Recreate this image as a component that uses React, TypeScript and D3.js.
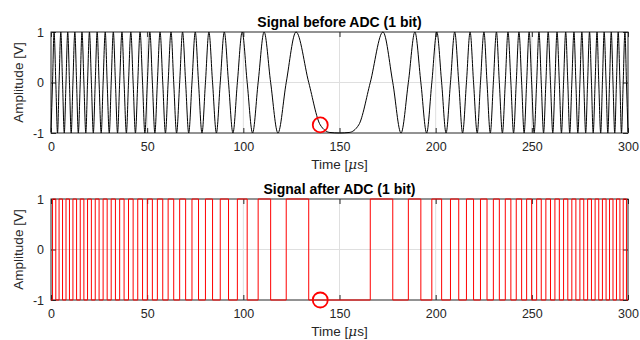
import * as d3 from "d3";
import React, { useRef, useEffect } from "react";

const mainWidth = 640;
const mainHeight = 340;

const left = 51;
const right = 628;

// analog chirp (time in µs)
const peakTimes = [
  1.6, 5.1, 8.7, 12.4, 16.1, 20.0, 24.0, 28.2, 32.4, 36.9, 41.5, 46.3, 51.4,
  56.7, 62.4, 68.4, 75.0, 82.1, 90.1, 99.4, 110.8, 127.4, 172.6, 189.2, 200.6,
  209.9, 217.9, 225.1, 231.6, 237.6, 243.3, 248.6, 253.7, 258.5, 263.1, 267.6,
  271.9, 276.0, 280.0, 283.9, 287.6, 291.3, 294.9, 298.4,
];
const troughTimes = [
  3.4, 6.9, 10.5, 14.2, 18.1, 22.0, 26.1, 30.3, 34.6, 39.2, 43.9, 48.8, 54.0,
  59.5, 65.3, 71.6, 78.5, 86.0, 94.6, 104.8, 118.0, 150.0, 182.0, 195.3, 205.4,
  214.0, 221.6, 228.4, 234.7, 240.5, 246.0, 251.2, 256.1, 260.9, 265.4, 269.7,
  273.9, 278.0, 281.9, 285.8, 289.5, 293.1, 296.6,
];
const zeroTimes = [
  0.8, 2.5, 4.2, 6.0, 7.8, 9.6, 11.4, 13.3, 15.2, 17.1, 19.0, 21.0, 23.0, 25.0,
  27.1, 29.2, 31.3, 33.5, 35.7, 38.0, 40.3, 42.7, 45.1, 47.6, 50.1, 52.7, 55.3,
  58.1, 60.9, 63.8, 66.9, 70.0, 73.3, 76.7, 80.3, 84.0, 88.0, 92.3, 96.9, 102.0,
  107.7, 114.2, 122.3, 134.0, 166.0, 177.7, 185.8, 192.3, 198.0, 203.1, 207.7,
  212.0, 216.0, 219.7, 223.3, 226.7, 230.0, 233.1, 236.2, 239.1, 241.9, 244.7,
  247.3, 249.9, 252.5, 254.9, 257.3, 259.7, 262.0, 264.3, 266.5, 268.7, 270.8,
  272.9, 275.0, 277.0, 279.0, 281.0, 282.9, 284.8, 286.7, 288.6, 290.4, 292.2,
  294.0, 295.8, 297.5, 299.2,
];
const edgeTimes = [0, 300];
const edgeValues = [-0.98, -0.98];
// the wide flat trough around the centre
const flatTimes = [140, 145, 155, 160];
const flatValues = [-0.84, -0.99, -0.99, -0.84];

const markerTime = 140;
const markerValues = [-0.84, -1];

const xTicks = [0, 50, 100, 150, 200, 250, 300];
const yTicks = [-1, 0, 1];

const titles = ["Signal before ADC (1 bit)", "Signal after ADC (1 bit)"];
const panelTops = [32, 199];
const panelHeight = 101;

const axisColor = "#262626";
const font = "'Liberation Sans', Arial, Helvetica, sans-serif";

function App() {
  const ref = useRef(null);

  useEffect(() => {
    const svg = d3.select(ref.current);
    svg.selectAll("*").remove();

    const analog = [
      ...peakTimes.map((t) => ({ t, v: 1 })),
      ...troughTimes.map((t) => ({ t, v: -1 })),
      ...zeroTimes.map((t) => ({ t, v: 0 })),
      ...edgeTimes.map((t, i) => ({ t, v: edgeValues[i] })),
      ...flatTimes.map((t, i) => ({ t, v: flatValues[i] })),
    ].sort((a, b) => a.t - b.t);

    // 1 bit quantisation: level flips at each zero crossing
    const digital = [];
    analog.forEach((p, i) => {
      if (i === 0) digital.push({ t: p.t, v: Math.sign(p.v) });
      else if (p.v === 0) digital.push({ t: p.t, v: Math.sign(analog[i + 1].v) });
    });
    digital.push({ t: 300, v: digital[digital.length - 1].v });

    const series = [analog, digital];
    const colors = ["#000000", "#ff0000"];
    const curves = [d3.curveMonotoneX, d3.curveStepAfter];

    const x = d3.scaleLinear().domain([0, 300]).range([left, right]);

    panelTops.forEach((top, pi) => {
      const y = d3
        .scaleLinear()
        .domain([-1, 1])
        .range([top + panelHeight, top]);
      const g = svg.append("g");

      // grid
      g.append("g")
        .selectAll("line.vg")
        .data(xTicks.slice(1, -1))
        .join("line")
        .attr("x1", (d) => x(d))
        .attr("x2", (d) => x(d))
        .attr("y1", top)
        .attr("y2", top + panelHeight)
        .attr("stroke", "#dfdfdf")
        .attr("stroke-width", 1);
      g.append("line")
        .attr("x1", left)
        .attr("x2", right)
        .attr("y1", y(0))
        .attr("y2", y(0))
        .attr("stroke", "#dfdfdf")
        .attr("stroke-width", 1);

      // box
      g.append("rect")
        .attr("x", left)
        .attr("y", top)
        .attr("width", right - left)
        .attr("height", panelHeight)
        .attr("fill", "none")
        .attr("stroke", axisColor)
        .attr("stroke-width", 1);

      const fmt = (d) => String(d);
      const styleAxis = (sel) => {
        sel.select(".domain").remove();
        sel.selectAll("line").attr("stroke", axisColor);
        sel
          .selectAll("text")
          .attr("fill", axisColor)
          .style("font-family", font)
          .style("font-size", "12.5px");
      };

      g.append("g")
        .attr("transform", `translate(0,${top + panelHeight})`)
        .call(d3.axisBottom(x).tickValues(xTicks).tickSize(-5).tickPadding(9).tickFormat(fmt))
        .call(styleAxis);
      g.append("g")
        .attr("transform", `translate(0,${top})`)
        .call(d3.axisTop(x).tickValues(xTicks).tickSize(-5).tickFormat(() => ""))
        .call(styleAxis);
      g.append("g")
        .attr("transform", `translate(${left},0)`)
        .call(d3.axisLeft(y).tickValues(yTicks).tickSize(-5).tickPadding(7).tickFormat(fmt))
        .call(styleAxis);
      g.append("g")
        .attr("transform", `translate(${right},0)`)
        .call(d3.axisRight(y).tickValues(yTicks).tickSize(-5).tickFormat(() => ""))
        .call(styleAxis);

      // data
      const line = d3
        .line()
        .x((d) => x(d.t))
        .y((d) => y(d.v))
        .curve(curves[pi]);
      g.append("path")
        .datum(series[pi])
        .attr("d", line)
        .attr("fill", "none")
        .attr("stroke", colors[pi])
        .attr("stroke-width", 1);

      g.append("circle")
        .attr("cx", x(markerTime))
        .attr("cy", y(markerValues[pi]))
        .attr("r", 7.5)
        .attr("fill", "none")
        .attr("stroke", "#ff0000")
        .attr("stroke-width", 1.8);

      // title
      g.append("text")
        .attr("x", (left + right) / 2)
        .attr("y", top - 5)
        .attr("text-anchor", "middle")
        .attr("fill", "#000")
        .style("font-family", font)
        .style("font-size", "14px")
        .style("font-weight", "bold")
        .text(titles[pi]);

      // x label
      const xl = g
        .append("text")
        .attr("x", (left + right) / 2)
        .attr("y", top + panelHeight + 36)
        .attr("text-anchor", "middle")
        .attr("fill", axisColor)
        .style("font-family", font)
        .style("font-size", "13.5px");
      xl.append("tspan").text("Time [");
      xl.append("tspan")
        .style("font-family", "'DejaVu Serif', 'Liberation Serif', serif")
        .style("font-style", "italic")
        .text("\u03bc");
      xl.append("tspan").text("s]");

      // y label
      g.append("text")
        .attr("transform", `translate(23,${top + panelHeight / 2}) rotate(-90)`)
        .attr("text-anchor", "middle")
        .attr("fill", axisColor)
        .style("font-family", font)
        .style("font-size", "13.5px")
        .text("Amplitude [V]");
    });
  }, []);

  return (
    <svg
      ref={ref}
      width={mainWidth}
      height={mainHeight}
      style={{ position: "absolute", left: 0, top: 0, background: "#fff" }}
    ></svg>
  );
}

export default App;
